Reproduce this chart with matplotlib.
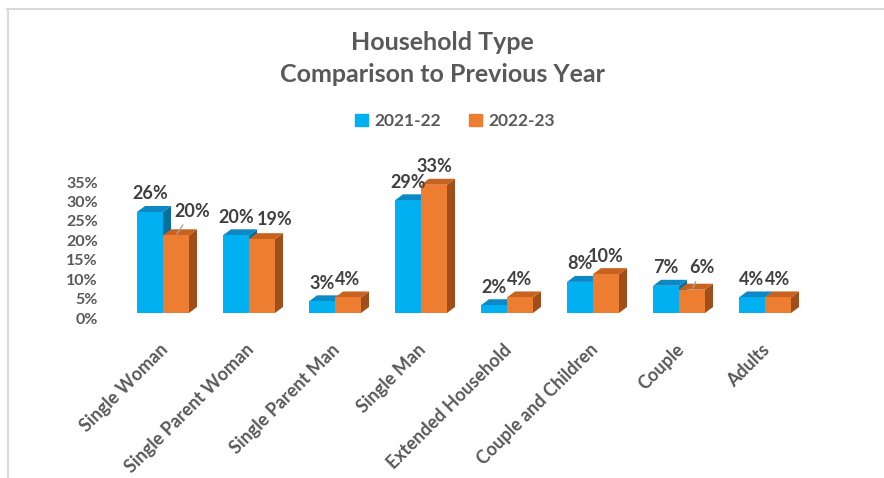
import matplotlib
matplotlib.use("Agg")
import matplotlib.pyplot as plt
from matplotlib.patches import Polygon, Patch
from matplotlib.lines import Line2D
from matplotlib.transforms import ScaledTranslation

plt.rcParams['font.family'] = ['Lato', 'DejaVu Sans']

categories = ['Single Woman', 'Single Parent Woman', 'Single Parent Man', 'Single Man',
              'Extended Household', 'Couple and Children', 'Couple', 'Adults']
series = ['2021-22', '2022-23']
vals_2122 = [0.26, 0.20, 0.03, 0.29, 0.02, 0.08, 0.07, 0.04]
vals_2223 = [0.20, 0.19, 0.04, 0.33, 0.04, 0.10, 0.06, 0.04]
yticks = [0, 0.05, 0.10, 0.15, 0.20, 0.25, 0.30, 0.35]

# label nudges in pixels (x, y) for labels Excel moved aside
nudge_2122 = [(0, 0)] * 8
nudge_2223 = [(16, 6), (13, 2), (0, 0), (0, 0), (0, 0), (0, 0), (10, 4), (0, 0)]
lead_2223 = [True, False, False, False, False, False, True, False]

front = ['#00B0F0', '#ED7D31']
top = ['#0C88C4', '#C8621E']
side = ['#08709F', '#A04E1A']
txt_dark = '#404040'
txt_gray = '#595959'

dpi = 100
fig = plt.figure(figsize=(8.84, 4.78), dpi=dpi)
W, H = 884, 478
ax = fig.add_axes([120 / W, (H - 313) / H, 688 / W, 136 / H])
ax.set_xlim(-0.5, len(categories) - 0.5)
ax.set_ylim(0, 0.35)

bw = 26 / 86
dx = 8 / 86
dy = 6 / 389
z = 2
px = 72 / dpi
for i in range(len(categories)):
    for s, vals in enumerate([vals_2122, vals_2223]):
        h = vals[i]
        x0 = i - bw + s * bw
        x1 = x0 + bw
        ax.add_patch(Polygon([(x1, 0), (x1 + dx, dy), (x1 + dx, h + dy), (x1, h)],
                             closed=True, fc=side[s], ec='none', zorder=z, clip_on=False))
        ax.add_patch(Polygon([(x0, h), (x1, h), (x1 + dx, h + dy), (x0 + dx, h + dy)],
                             closed=True, fc=top[s], ec='none', zorder=z + 1, clip_on=False))
        ax.bar(x0, h, width=bw, align='edge', color=front[s], zorder=z + 2, clip_on=False)
        z += 3

for s, vals in enumerate([vals_2122, vals_2223]):
    nudges = nudge_2122 if s == 0 else nudge_2223
    for i, h in enumerate(vals):
        xc = i - bw / 2 + s * bw
        nx, ny = nudges[i]
        lead = s == 1 and lead_2223[i]
        ax.annotate('%d%%' % round(h * 100), xy=(xc, h),
                    xytext=(nx * px, (18 + ny) * px), textcoords='offset points',
                    ha='center', va='center', fontsize=13, fontweight='bold',
                    color=txt_dark, zorder=100,
                    arrowprops=dict(arrowstyle='-', color='#A6A6A6', lw=1,
                                    shrinkA=2, shrinkB=1) if lead else None)

ax.set_xticks(range(len(categories)))
ax.set_xticklabels(categories, rotation=45, ha='right', rotation_mode='anchor',
                   fontsize=13, fontweight='bold', color=txt_gray)
ax.set_yticks(yticks)
ax.set_yticklabels(['%d%%' % round(t * 100) for t in yticks], fontsize=11.5,
                   fontweight='bold', color=txt_gray)
ax.tick_params(axis='x', length=0, pad=20)
ax.tick_params(axis='y', length=0, pad=16)
off = ScaledTranslation(0, -5 / dpi, fig.dpi_scale_trans)
for lab in ax.get_yticklabels():
    lab.set_transform(lab.get_transform() + off)
off_x = ScaledTranslation(-4 / dpi, 0, fig.dpi_scale_trans)
for lab in ax.get_xticklabels():
    lab.set_transform(lab.get_transform() + off_x)
for sp in ax.spines.values():
    sp.set_visible(False)

fig.text(0.5, 1 - 42 / H, 'Household Type', ha='center', va='center',
         fontsize=18, fontweight='bold', color=txt_gray)
fig.text(0.5, 1 - 75 / H, 'Comparison to Previous Year', ha='center', va='center',
         fontsize=18, fontweight='bold', color=txt_gray)

handles = [Patch(color=front[0]), Patch(color=front[1])]
fig.legend(handles, series, loc='center', bbox_to_anchor=(455 / W, 1 - 121 / H),
           ncol=2, frameon=False, handlelength=0.75, handleheight=0.75,
           handletextpad=0.4, columnspacing=1.6, labelcolor=txt_gray,
           prop={'weight': 'bold', 'size': 12.5})

fig.add_artist(Line2D([7 / W, 1], [1 - 9 / H, 1 - 9 / H], color='#D9D9D9', lw=1.5))
fig.add_artist(Line2D([8 / W, 8 / W], [0, 1 - 9 / H], color='#D9D9D9', lw=1.5))

fig.savefig('out.png', dpi=dpi)
